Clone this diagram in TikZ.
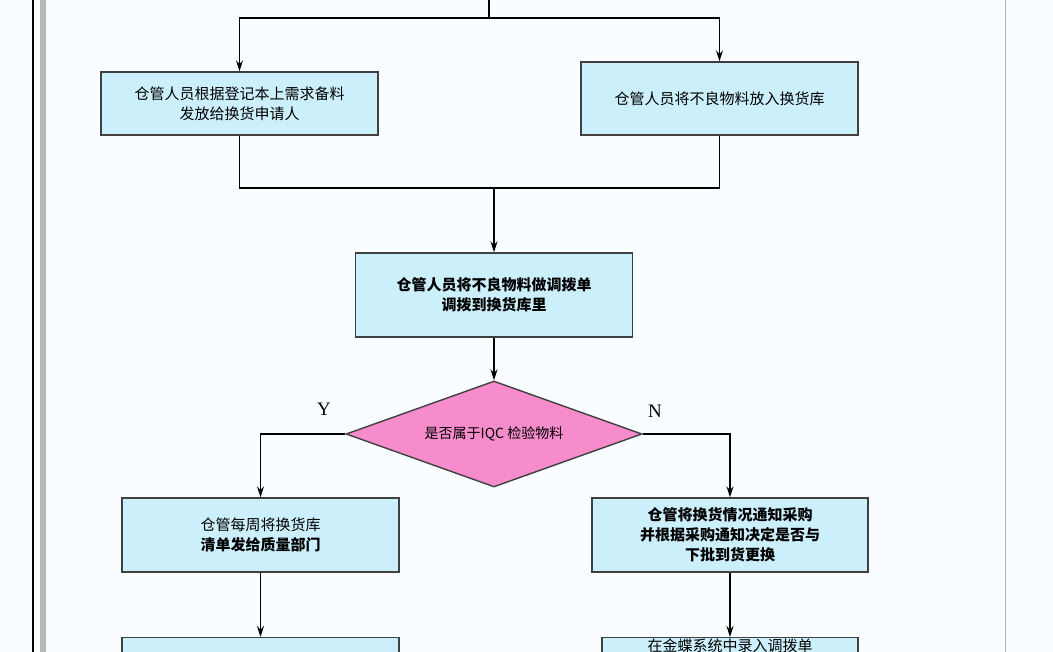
\documentclass[tikz,border=0pt]{standalone}
\usepackage{fontspec}
\setmainfont{Noto Sans CJK SC}
\newfontfamily\serifA{Liberation Serif}
\usetikzlibrary{shapes.geometric,arrows.meta}
\begin{document}
\begin{tikzpicture}[x=1pt,y=-1pt,
 box/.style={draw=black!75,fill=cyan!20,line width=1.4pt,align=center,font=\fontsize{15}{20}\selectfont},
 arr/.style={-{Stealth[length=11pt,width=7pt]},line width=1.4pt},
 ln/.style={line width=1.4pt}]
\useasboundingbox[fill=cyan!2] (0,0) rectangle (1053,652);
\draw[line width=1.2pt] (33,0) -- (33,652);
\fill[gray!55] (40,0) rectangle (46,652);
\draw[gray!60,line width=1pt] (1005,0) -- (1005,652);
\node[box,minimum width=277pt,minimum height=63pt] (b1) at (239.5,103.5) {仓管人员根据登记本上需求备料\\发放给换货申请人};
\node[box,minimum width=277pt,minimum height=73pt] (b2) at (719.5,98.5) {仓管人员将不良物料放入换货库};
\node[box,minimum width=277pt,minimum height=84pt,font=\fontsize{15}{20}\selectfont\bfseries] (b3) at (494,295) {仓管人员将不良物料做调拨单\\调拨到换货库里};
\node[diamond,draw=black!75,fill=magenta!45,line width=1.4pt,minimum width=296pt,minimum height=106pt,inner sep=0pt,aspect=2.8] (d) at (494,434) {};
\node (dt) at (494,434) {\fontsize{14}{18}\selectfont 是否属于IQC 检验物料};
\node[box,minimum width=277pt,minimum height=74pt] (b4) at (260.5,535) {仓管每周将换货库\\\textbf{清单发给质量部门}};
\node[box,minimum width=276pt,minimum height=74pt,font=\fontsize{15}{20}\selectfont\bfseries] (b5) at (730,535) {仓管将换货情况通知采购\\并根据采购通知决定是否与\\下批到货更换};
\node[box,minimum width=277pt,minimum height=40pt,anchor=north] (b6) at (260.5,637) {};
\node[box,minimum width=256pt,minimum height=40pt,anchor=north,text height=12pt,text depth=24pt,inner sep=2pt] (b7) at (730,637) {在金蝶系统中录入调拨单};
\node[font=\serifA\fontsize{19}{19}\selectfont] (y) at (324,409) {Y};
\node[font=\serifA\fontsize{19}{19}\selectfont] (n) at (655,411) {N};
\coordinate (top) at (489,0);
\draw[ln] (top) -- (489,18) coordinate (tj);
\draw[arr] (tj) -| (b1.north);
\draw[arr] (tj) -| (b2.north);
\draw[ln] (b1.south) |- (494,188) coordinate (mj) -| (b2.south);
\draw[arr] (mj) -- (b3.north);
\draw[arr] (b3.south) -- (d.north);
\draw[arr] (d.west) -| (b4.north);
\draw[arr] (d.east) -| (b5.north);
\draw[arr] (b4.south) -- (b6.north);
\draw[arr] (b5.south) -- (b7.north);
\end{tikzpicture}
\end{document}
